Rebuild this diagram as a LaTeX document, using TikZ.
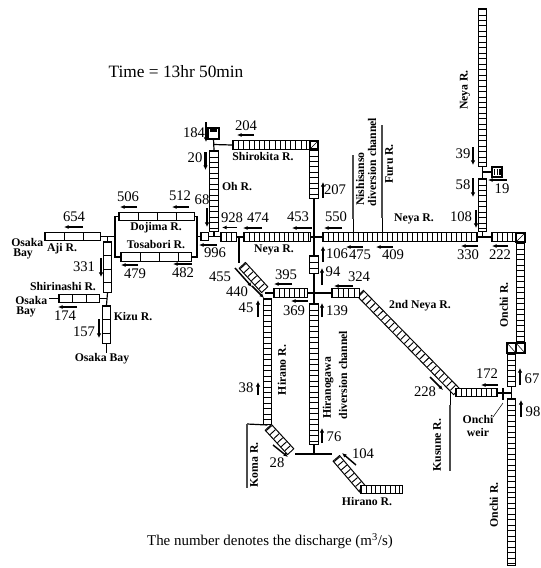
\documentclass[tikz,border=0pt]{standalone}
\usepackage{fontspec}
\setmainfont{Liberation Serif}
\usetikzlibrary{arrows.meta}
\tikzset{
	reachedge/.style={line width=7.1pt,black},
	reachfill/.style={line width=5.4pt,white,shorten >=0.8pt,shorten <=0.8pt},
	reachrung/.style={line width=5.4pt,black,shorten >=0.8pt,shorten <=0.8pt},
	link/.style={line width=0.9pt,black},
	sidechannel/.style={line width=1.8pt,black!70},
	flow/.style={line width=1.1pt,-{Latex[length=3.4pt,width=3pt]}},
	flowv/.style={line width=1.7pt,-{Latex[length=3.4pt,width=3.4pt]}},
	num/.style={inner sep=0pt,font=\fontsize{11}{11}\selectfont},
	rivername/.style={inner sep=0pt,font=\fontsize{8.8}{9}\selectfont\bfseries},
	timetext/.style={inner sep=0pt,font=\fontsize{13}{14}\selectfont},
	notetext/.style={inner sep=0pt,font=\fontsize{11.2}{13}\selectfont}
}
% one river reach: outline, inside, rungs [cell length in pt]
\newcommand{\reach}[3][4.1]{
	\draw[reachedge] #2 -- #3;
	\draw[reachfill] #2 -- #3;
	\pgfmathsetmacro{\rungoff}{#1-0.7}
	\draw[reachrung,dash pattern=on 0.7pt off \rungoff pt,dash phase=-#1 pt] #2 -- #3;
}
\newcommand{\bend}[4]{
	\draw[line width=0.9pt,fill=white] (#1,#2) rectangle (#3,#4);
	\draw[line width=0.4pt] (#1,#4) -- (#3,#2);
}
\begin{document}
\begin{tikzpicture}[x=0.75pt,y=-0.75pt]
	\useasboundingbox (0,0) rectangle (541,568);
	% Osaka side
	\coordinate (ajiW) at (44,236.5);
	\coordinate (ajiE) at (101,236.5);
	\coordinate (dojimaW) at (118,216.5);
	\coordinate (dojimaE) at (195,216.5);
	\coordinate (tosaW) at (120,257);
	\coordinate (tosaE) at (192,257);
	\coordinate (forkW) at (115,236.5);
	\coordinate (forkE) at (197,236.5);
	\coordinate (kizuA) at (107.5,241);
	\coordinate (kizuB) at (107.5,293);
	\coordinate (kizuC) at (106.5,305);
	\coordinate (kizuD) at (106.5,344);
	\coordinate (shiriW) at (58,298.5);
	\coordinate (shiriE) at (100,298.5);
	\draw[link] (ajiE) -- (forkW);
	\draw[link] (dojimaW) -- (forkW |- dojimaW) -- (forkW |- tosaW) -- (tosaW);
	\draw[link] (dojimaE) -- (forkE |- dojimaE) -- (forkE |- tosaE) -- (tosaE);
	\draw[link] (forkE) -- (220,236.5);
	\draw[link] (107.5,236.5) -- (kizuA);
	\draw[link] (kizuB) -- (106.5,305);
	\draw[link] (shiriE) -- (107,298.5);
	\draw[link] (49,298.5) -- (shiriW);
	\draw[link] (kizuD) -- (106.5,353);
	\reach[14.2]{(ajiW)}{(ajiE)}
	\reach[14.2]{(dojimaW)}{(dojimaE)}
	\reach[14.2]{(tosaW)}{(tosaE)}
	\reach[10]{(kizuA)}{(kizuB)}
	\reach[10]{(kizuC)}{(kizuD)}
	\reach[10]{(shiriW)}{(shiriE)}
	\reach[6]{(200,236.5)}{(209,236.5)}
	% Oh R. and Shirokita R.
	\coordinate (ohN) at (214,150);
	\coordinate (ohS) at (214,232);
	\coordinate (shiroW) at (232,145);
	\coordinate (shiroE) at (318,145);
	\coordinate (shiroS) at (314,199);
	\coordinate (midA) at (314,255);
	\coordinate (midB) at (314,274);
	\coordinate (hiragaN) at (314,303);
	\coordinate (hiragaS) at (314,445);
	\draw[link] (213.5,139) -- (ohN);
	\draw[link] (213.5,144.5) -- (shiroW);
	\draw[link,fill=white] (208,128) rectangle (219,139);
	\draw[line width=2pt] (210,130.5) -- (217,130.5);
	\draw[link] (ohS) -- (214,236.5);
	\draw[link] (shiroS) -- (midA);
	\draw[link] (midB) -- (hiragaN);
	\reach{(ohN)}{(ohS)}
	\reach[3.9]{(shiroW)}{(shiroE)}
	\reach{(314,149)}{(shiroS)}
	\bend{310}{141}{318}{149}
	\reach[4.6]{(midA)}{(midB)}
	\reach{(hiragaN)}{(hiragaS)}
	% Neya R.
	\coordinate (neyaA) at (220,237);
	\coordinate (neyaB) at (237,237);
	\coordinate (neyaC) at (243,237);
	\coordinate (neyaD) at (311,237);
	\coordinate (neyaE) at (322,237);
	\coordinate (neyaF) at (478,237);
	\coordinate (neyaG) at (491,237);
	\coordinate (upN) at (482.5,8);
	\coordinate (upS) at (482.5,167);
	\coordinate (lowN) at (482.5,178);
	\coordinate (lowS) at (482.5,232);
	\draw[link] (neyaB) -- (neyaC);
	\draw[link] (neyaD) -- (neyaE);
	\draw[link] (neyaF) -- (neyaG);
	\draw[link] (upS) -- (lowN);
	\draw[link] (lowS) -- (482.5,237);
	\draw[link] (482.5,172) -- (492,172);
	\draw[link,fill=white] (492,167) rectangle (502,177);
	\draw[line width=4pt,dash pattern=on 1.1pt off 0.8pt] (494,172) -- (501,172);
	\draw[line width=0.7pt] (353,219) -- (353,232);
	\draw[line width=0.7pt] (382,218) -- (382,232);
	\draw[sidechannel] (353,155) -- (353,219);
	\draw[sidechannel] (382,125) -- (382,218);
	\reach[3.7]{(neyaA)}{(neyaB)}
	\reach[3.7]{(neyaC)}{(neyaD)}
	\reach[3.7]{(neyaE)}{(neyaF)}
	\reach{(upN)}{(upS)}
	\reach{(lowN)}{(lowS)}
	\reach[3.7]{(neyaG)}{(517,237)}
	% Onchi R.
	\coordinate (onchiA) at (520.5,242);
	\coordinate (onchiB) at (520.5,343);
	\coordinate (onchiC) at (511.5,353);
	\coordinate (onchiD) at (511.5,387);
	\coordinate (onchiE) at (511.5,398);
	\coordinate (onchiF) at (511.5,566);
	\draw[link] (onchiD) -- (onchiE);
	\reach{(onchiA)}{(onchiB)}
	\reach[4.1]{(onchiC)}{(onchiD)}
	\reach{(onchiE)}{(onchiF)}
	\bend{516}{233}{525}{242}
	\draw[line width=0.9pt,fill=white] (507,343) rectangle (525,353);
	\draw[line width=0.9pt] (516,343) -- (516,353);
	\draw[line width=0.4pt] (507,343) -- (516,353) (516,343) -- (525,353);
	% Hirano R.
	\coordinate (hirupN) at (242,265);
	\coordinate (hirupS) at (265,290);
	\coordinate (crossW) at (308,293);
	\coordinate (crossE) at (331,293);
	\coordinate (hiraN) at (267.5,298);
	\coordinate (hiraS) at (267.5,425);
	\coordinate (hiraT) at (291,452);
	\coordinate (hiraU) at (295,454);
	\coordinate (hiraV) at (332,454);
	\coordinate (hiraX) at (336,458);
	\coordinate (hiraY) at (363,489.5);
	\draw[line width=1.3pt] (239,237) -- (239,263);
	\draw[link] (crossW) -- (crossE);
	\draw[link] (265,293) -- (273,293);
	\draw[link] (hiraU) -- (hiraV);
	\draw[link] (hiragaS) -- (314,454);
	\draw[link] (hiraS) -- (247,424);
	\draw[line width=0.7pt] (450,392) -- (450,405);
	\draw[sidechannel] (247,424) -- (247,488);
	\draw[sidechannel] (450,405) -- (450,471);
	\reach{(hirupN)}{(hirupS)}
	\reach{(hiraN)}{(hiraS)}
	\reach{(268,427)}{(hiraT)}
	\reach{(hiraX)}{(hiraY)}
	\reach[3.6]{(360,489.5)}{(403,489.5)}
	\reach[3.7]{(273,293)}{(crossW)}
	% 2nd Neya R.
	\reach{(360,293)}{(457,392)}
	\reach[4.1]{(crossE)}{(360,293)}
	\reach[3.7]{(455,392.5)}{(498,392.5)}
	\draw[link] (498,393) -- (511,393);
	\draw[line width=1.1pt] (503,388) -- (503,400);
	\draw[line width=0.4pt] (493,417) -- (503,403);
	% discharge numbers
	\draw[flow] (83,227) -- (64,227);
	\node[num] (q654) at (74,217) {654};
	\draw[flow] (137,207) -- (120,207);
	\node[num] (q506) at (128,197) {506};
	\draw[flow] (189,207) -- (172,207);
	\node[num] (q512) at (180,196) {512};
	\draw[flowv] (207,208) -- (207,227);
	\node[num] (q68) at (202,200) {68};
	\draw[flow] (237,227.5) -- (222,227.5);
	\node[num] (q928) at (232,218) {928};
	\draw[flow] (262,228) -- (243,228);
	\node[num] (q474) at (258,218) {474};
	\draw[flow] (312,228) -- (292,228);
	\node[num] (q453) at (298,217) {453};
	\draw[flow] (342,228) -- (324,228);
	\node[num] (q550) at (336,217) {550};
	\draw[flow] (217,245) -- (199,245);
	\node[num] (q996) at (215,253) {996};
	\draw[flow] (138,265) -- (121,265);
	\node[num] (q479) at (135,274) {479};
	\draw[flow] (192,264) -- (173,264);
	\node[num] (q482) at (183,273) {482};
	\draw[flowv] (101,258) -- (101,277);
	\node[num] (q331) at (84,267) {331};
	\draw[flow] (77,307) -- (58,307);
	\node[num] (q174) at (65,316) {174};
	\draw[flowv] (99,319) -- (99,338);
	\node[num] (q157) at (84,332) {157};
	\draw[flowv] (206,122) -- (206,142);
	\node[num] (q184) at (194,133) {184};
	\draw[flowv] (205.5,152) -- (205.5,170);
	\node[num] (q20) at (195,158) {20};
	\draw[flow] (254,135) -- (237,135);
	\node[num] (q204) at (246,126) {204};
	\draw[flowv] (323,198) -- (323,182);
	\node[num] (q207) at (335,190) {207};
	\draw[flowv] (323,262) -- (323,246);
	\node[num] (q106) at (337,254) {106};
	\draw[flowv] (322,285) -- (322,268);
	\node[num] (q94) at (333,272) {94};
	\draw[flow] (363,247) -- (346,247);
	\node[num] (q475) at (360,255) {475};
	\draw[flow] (393,247) -- (376,247);
	\node[num] (q409) at (393,255) {409};
	\draw[flow] (478,246) -- (461,246);
	\node[num] (q330) at (468,255) {330};
	\draw[flow] (508,246) -- (492,246);
	\node[num] (q222) at (500,255) {222};
	\draw[flowv] (473,147) -- (473,165);
	\node[num] (q39) at (463,154) {39};
	\draw[flowv] (473,178) -- (473,197);
	\node[num] (q58) at (463,185) {58};
	\draw[flowv] (476,210) -- (476,228);
	\node[num] (q108) at (461,217) {108};
	\draw[flow] (507,180) -- (488,180);
	\node[num] (q19) at (502,189) {19};
	\draw[flow] (235,268) -- (252,287);
	\node[num] (q455) at (220,277) {455};
	\draw[flow] (252,286) -- (264,298);
	\node[num] (q440) at (237,292) {440};
	\draw[flow] (292,284) -- (274,284);
	\node[num] (q395) at (286,275) {395};
	\draw[flow] (308,301) -- (291,301);
	\node[num] (q369) at (294,311) {369};
	\draw[flow] (353,286) -- (334,286);
	\node[num] (q324) at (359,277) {324};
	\draw[flowv] (322,317) -- (322,303);
	\node[num] (q139) at (337,311) {139};
	\draw[flowv] (258,317) -- (258,300);
	\node[num] (q45) at (246,308) {45};
	\draw[flowv] (258,395) -- (258,382);
	\node[num] (q38) at (246,388) {38};
	\draw[flowv] (322,443) -- (322,428);
	\node[num] (q76) at (334,437) {76};
	\draw[flow] (273,445) -- (288,457);
	\node[num] (q28) at (277,463) {28};
	\draw[flow] (356,465) -- (342,453);
	\node[num] (q104) at (363,454) {104};
	\draw[flow] (430,377) -- (443,390);
	\node[num] (q228) at (425,392) {228};
	\draw[flow] (498,385) -- (481,385);
	\node[num] (q172) at (487,374) {172};
	\draw[flowv] (520,385) -- (520,368);
	\node[num] (q67) at (532,379) {67};
	\draw[flowv] (521,417) -- (521,400);
	\node[num] (q98) at (533,412) {98};
	% river names
	\node[rivername,anchor=west] (osakaA) at (11,242) {Osaka};
	\node[rivername,anchor=west] (bayA) at (13,254) {Bay};
	\node[rivername,anchor=west] (osakaB) at (15,300) {Osaka};
	\node[rivername,anchor=west] (bayB) at (16,312) {Bay};
	\node[rivername] (osakaC) at (102,359) {Osaka Bay};
	\node[rivername] (aji) at (62,249) {Aji R.};
	\node[rivername] (dojima) at (156,228) {Dojima R.};
	\node[rivername] (tosabori) at (156,245) {Tosabori R.};
	\node[rivername] (shirinashi) at (63,287) {Shirinashi R.};
	\node[rivername] (kizu) at (133,317) {Kizu R.};
	\node[rivername] (oh) at (237,187) {Oh R.};
	\node[rivername] (shirokita) at (263,157) {Shirokita R.};
	\node[rivername] (neyaMain) at (414,219) {Neya R.};
	\node[rivername] (neyaLow) at (274,250) {Neya R.};
	\node[rivername] (neyaSecond) at (420,306) {2nd Neya R.};
	\node[rivername] (hiranoEnd) at (367,502) {Hirano R.};
	\node[rivername] (onchiWeirA) at (478,419) {Onchi};
	\node[rivername] (onchiWeirB) at (478,432) {weir};
	\node[rivername,rotate=90] (neyaTop) at (465,90) {Neya R.};
	\node[rivername,rotate=90] (nishiA) at (360,179) {Nishisanso};
	\node[rivername,rotate=90] (nishiB) at (372,162) {diversion channel};
	\node[rivername,rotate=90] (furu) at (389,164) {Furu R.};
	\node[rivername,rotate=90] (onchiUp) at (504,305) {Onchi R.};
	\node[rivername,rotate=90] (onchiLow) at (494,505) {Onchi R.};
	\node[rivername,rotate=90] (hiranoSide) at (282,370) {Hirano R.};
	\node[rivername,rotate=90] (hiragaA) at (328,388) {Hiranogawa};
	\node[rivername,rotate=90] (hiragaB) at (343,375) {diversion channel};
	\node[rivername,rotate=90] (kusune) at (437,445) {Kusune R.};
	\node[rivername,rotate=90] (koma) at (254,465) {Koma R.};
	\node[timetext] (timeLabel) at (176,72) {Time = 13hr 50min};
	\node[notetext] (noteLabel) at (270,541) {The number denotes the discharge (m\textsuperscript{3}/s)};
\end{tikzpicture}
\end{document}
